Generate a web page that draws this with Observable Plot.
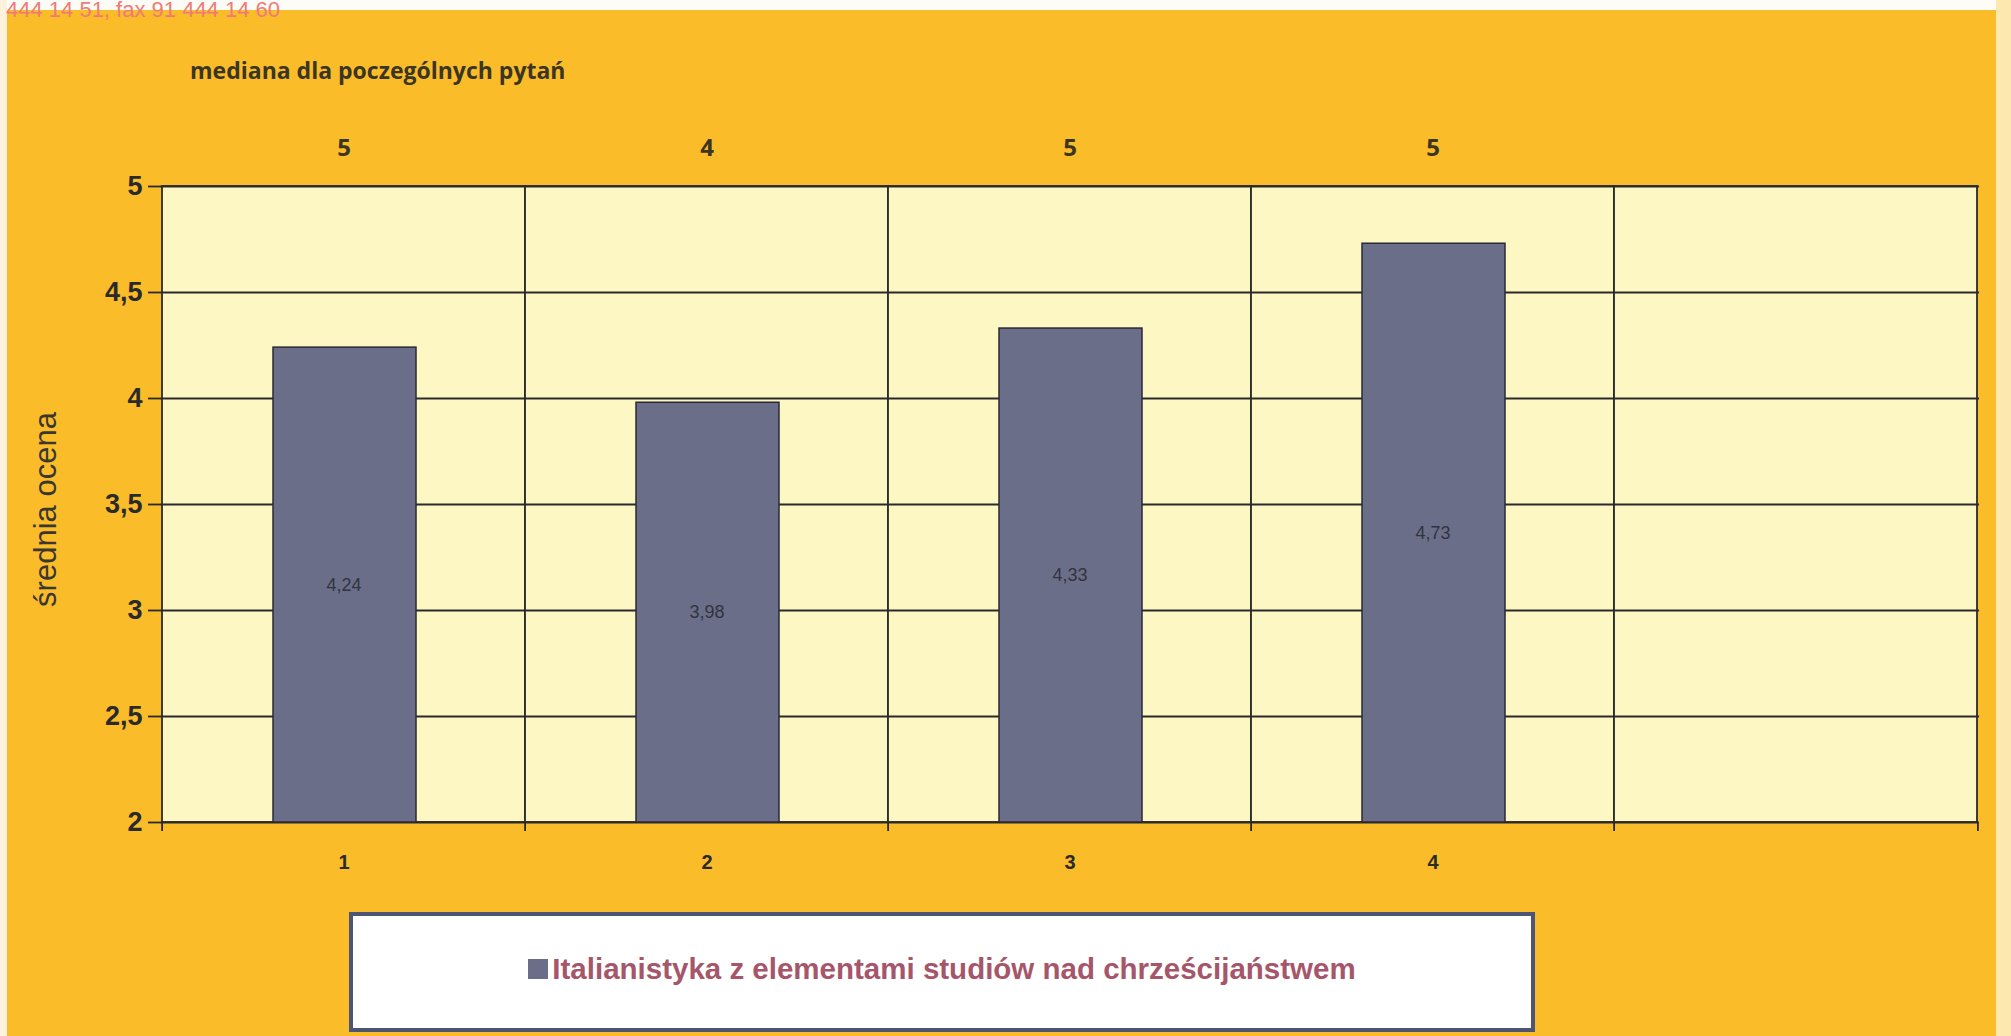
<!DOCTYPE html>
<html>
<head>
<meta charset="utf-8">
<script src="https://cdn.jsdelivr.net/npm/d3@7"></script>
<script src="https://cdn.jsdelivr.net/npm/@observablehq/plot@0.6"></script>
<style>
  html, body { margin: 0; padding: 0; }
  body { width: 2011px; height: 1036px; overflow: hidden; position: relative; background: #fbbc2a; font-family: "DejaVu Sans", sans-serif; }
  #topband { position: absolute; left: 0; top: 0; width: 2011px; height: 10px; background: #fefcf6; }
  #leftband { position: absolute; left: 0; top: 0; width: 7px; height: 1036px; background: #fdf3dc; }
  #rightband { position: absolute; left: 1996px; top: 0; width: 15px; height: 1036px; background: #fde9b0; }
  #fax { position: absolute; left: 6px; top: 0px; line-height: 20px; font-family: "Liberation Sans", Arial, sans-serif; font-size: 22px; color: #f07a78; white-space: nowrap; }
  #subtitle { position: absolute; left: 190px; top: 54px; font-family: "Open Sans", sans-serif; font-weight: 700; font-size: 23px; color: #3b3524; white-space: nowrap; }
  #chart { position: absolute; left: 0; top: 0; }
  #legend { position: absolute; left: 349px; top: 912px; width: 1178px; height: 112px; border: 4px solid #4d5577; background: #ffffff; display: flex; align-items: center; justify-content: center; }
  #legend .sw { width: 20px; height: 20px; background: #6b6e89; margin-right: 4px; margin-top: -6px; }
  #legend .lt { font-family: "Liberation Sans", Arial, sans-serif; font-weight: bold; font-size: 29.5px; color: #a6566a; margin-top: -6px; white-space: nowrap; }
</style>
</head>
<body>
<div id="topband"></div>
<div id="leftband"></div>
<div id="rightband"></div>
<div id="fax">444 14 51, fax 91 444 14 60</div>
<div id="chart"></div>
<div id="subtitle"></div>
<div id="legend"><div class="sw"></div><div class="lt"></div></div>
<script>
// ---- data ----
const categories = ["1", "2", "3", "4", "5"];
const xTickLabels = ["1", "2", "3", "4", ""];
const questions = ["1", "2", "3", "4"];
const means = [4.24, 3.98, 4.33, 4.73];
const medians = [5, 4, 5, 5];
const yTicks = [2, 2.5, 3, 3.5, 4, 4.5, 5];
const yDomain = [2, 5];
const seriesName = "Italianistyka z elementami studiów nad chrześcijaństwem";
const subtitleText = "mediana dla poczególnych pytań";
const yTitle = "średnia ocena";

document.getElementById("subtitle").textContent = subtitleText;
document.querySelector("#legend .lt").textContent = seriesName;

const rows = questions.map((q, i) => ({q, mean: means[i], median: medians[i]}));
const comma = v => String(v).replace(".", ",");
const xLabel = Object.fromEntries(categories.map((c, i) => [c, xTickLabels[i]]));

const W = 2011, H = 890;
const mL = 160, mR = 32, mT = 186, mB = 68;
const step = (W - mL - mR) / categories.length;

const chart = Plot.plot({
  width: W,
  height: H,
  marginLeft: mL,
  marginRight: mR,
  marginTop: mT,
  marginBottom: mB,
  style: {background: "transparent", fontFamily: "DejaVu Sans", overflow: "visible"},
  x: {type: "band", domain: categories, padding: 0, axis: null},
  y: {domain: yDomain, axis: null},
  marks: [
    Plot.cell(categories, {x: d => d, fill: "#fdf7c4", stroke: "#2a2a2a", strokeWidth: 1.8}),
    Plot.ruleY(yTicks, {stroke: "#2a2a2a", strokeWidth: 1.8}),
    Plot.barY(rows, {x: "q", y1: () => yDomain[0], y2: "mean", fill: "#6b6e89", stroke: "#2a2a36", strokeWidth: 1.5, insetLeft: 111, insetRight: 109}),
    Plot.text(rows, {x: "q", y: d => (yDomain[0] + d.mean) / 2, text: d => comma(d.mean), fontFamily: "Liberation Sans", fontSize: 18, fill: "#33333f", lineAnchor: "middle"}),
    Plot.text(rows, {x: "q", frameAnchor: "top", dy: -38, text: d => String(d.median), fontFamily: "Open Sans", fontWeight: 700, fontSize: 24, fill: "#3b3524", lineAnchor: "middle"}),
    Plot.axisY({ticks: yTicks, tickSize: 12, tickPadding: 6, tickFormat: comma, fontFamily: "Liberation Sans", fontSize: 27, fontWeight: "bold", fill: "#2a2a2a", stroke: "#2a2a2a", strokeWidth: 1.8, label: null}),
    Plot.axisX({tickSize: 0, tickPadding: 32, tickFormat: d => xLabel[d], fontFamily: "Liberation Sans", fontSize: 20, fontWeight: "bold", fill: "#2a2a2a", label: null}),
    Plot.axisX({tickSize: 9, tickFormat: () => "", dx: -step / 2, stroke: "#2a2a2a", strokeWidth: 1.8, label: null}),
    Plot.axisX({ticks: [categories[categories.length - 1]], tickSize: 9, tickFormat: () => "", dx: step / 2, stroke: "#2a2a2a", strokeWidth: 1.8, label: null}),
    Plot.text([yTitle], {frameAnchor: "left", rotate: -90, dx: -114, dy: 5, text: d => d, textAnchor: "middle", fontFamily: "Liberation Sans", fontSize: 31, fill: "#3a3630", lineAnchor: "middle"})
  ]
});
document.getElementById("chart").append(chart);
</script>
</body>
</html>
